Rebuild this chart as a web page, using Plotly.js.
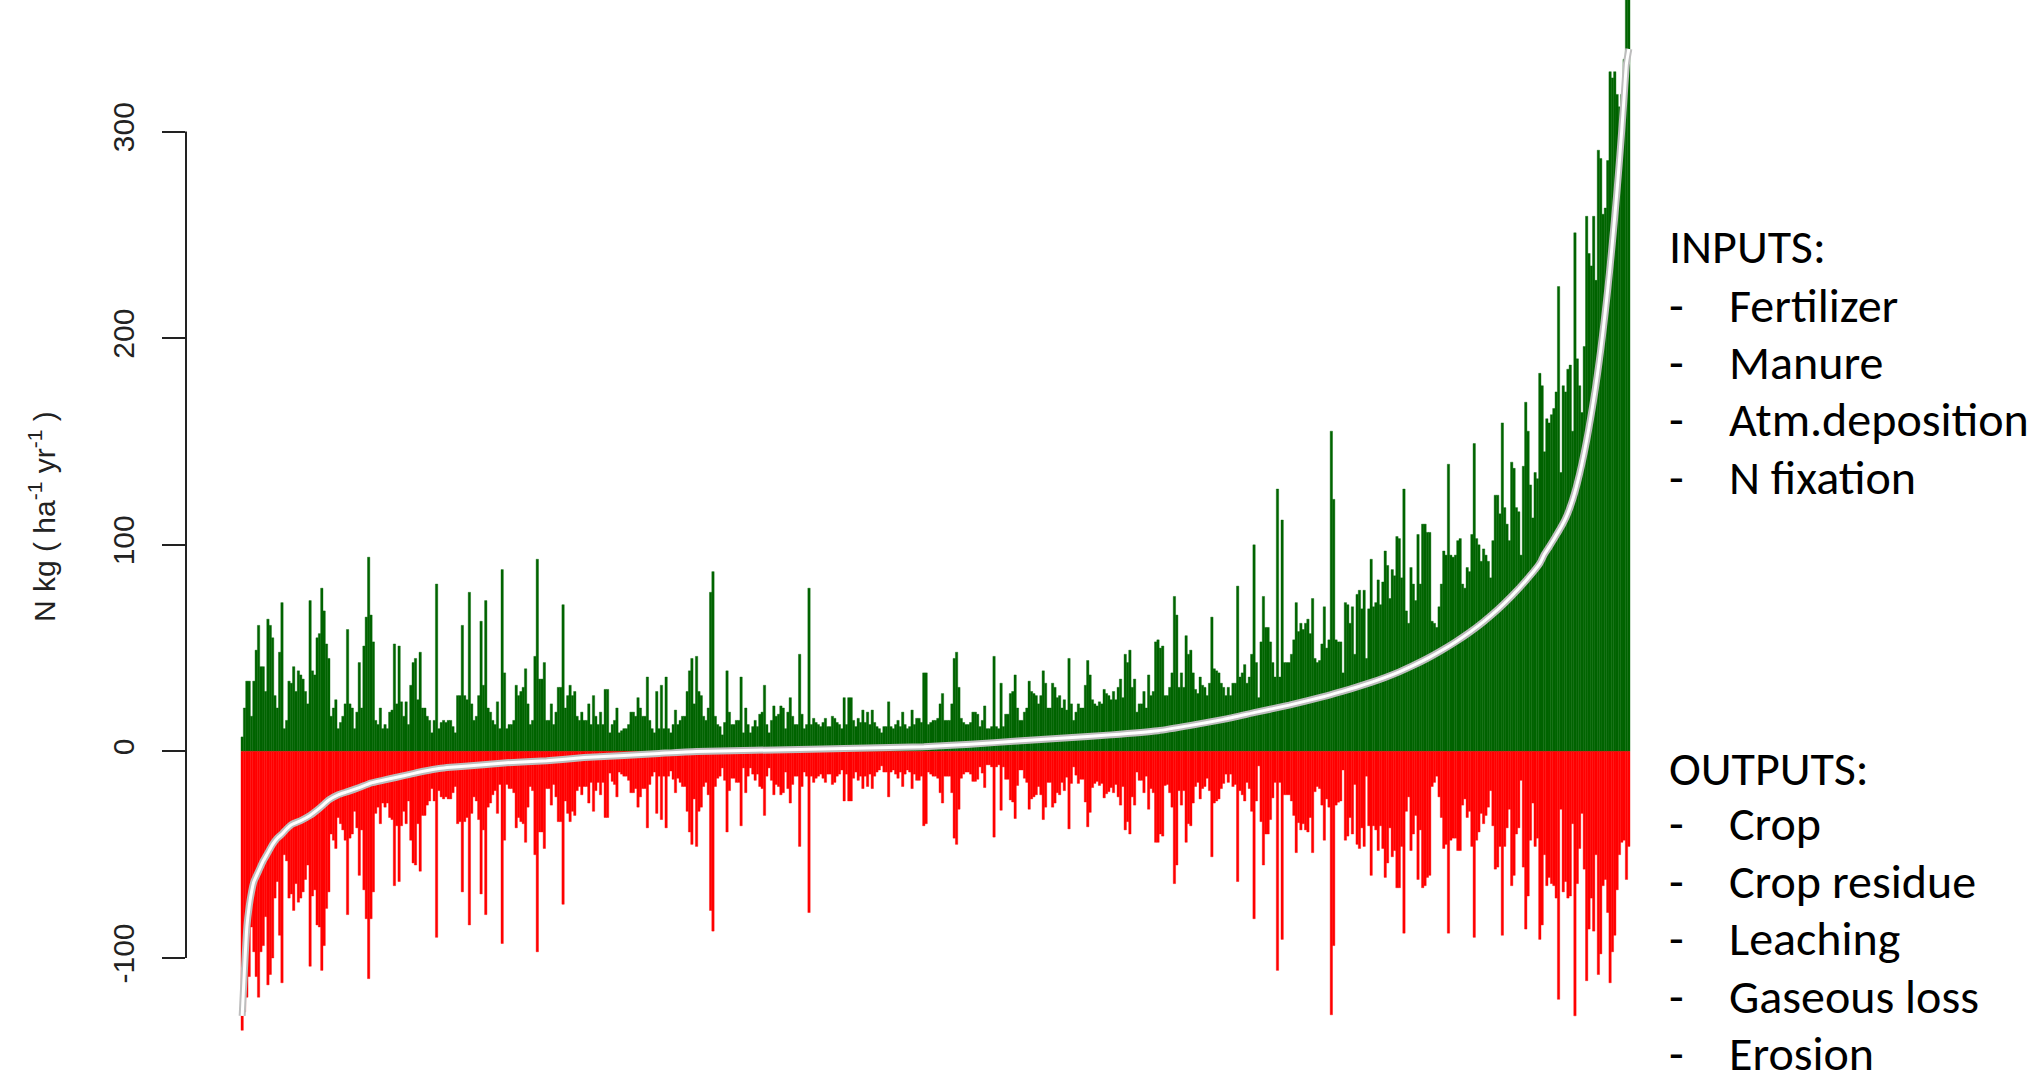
<!DOCTYPE html>
<html>
<head>
<meta charset="utf-8">
<script src="https://cdn.plot.ly/plotly-3.0.1.min.js"></script>
<style>
html, body { margin: 0; padding: 0; background: #ffffff; }
#chart { width: 2041px; height: 1071px; }
</style>
</head>
<body>
<div id="chart"></div>
<script>
// N inputs per cell (kg N ha-1 yr-1), cells sorted by N balance
const inputs = [
7,21,34,34,17,34,49,61,41,41, 29,64,61,55,27,21,48,72,11,15, 34,33,41,29,39,37,35,29,23,73, 39,37,55,57,79,68,52,45,17,21, 25,11,14,17,23,59,23,21,11,19, 43,21,51,65,94,66,53,15,13,21, 11,13,11,19,20,52,23,51,24,17, 24,13,32,43,45,25,48,21,21,17, 15,9,15,81,11,14,15,14,15,15, 12,9,27,27,61,27,
25,77,23,15,17,27,63,32,73,21, 19,15,13,24,11,88,38,11,13,13, 15,32,27,29,31,40,23,13,15,46, 93,35,35,43,15,15,23,13,19,31, 31,71,21,27,32,27,29,17,15,19, 15,15,23,13,27,17,13,19,13,30, 30,9,13,15,21,9,10,11,11,13, 19,19,17,26,21,17,17,36,15,11, 9,29,11,32,11,36,11,9,13,20, 13,15,17,17,29,39,45,23,
46,29,27,17,15,21,77,87,17,13, 12,8,14,39,19,13,13,15,15,36, 9,21,13,9,12,15,12,18,19,32, 13,9,15,22,17,18,22,21,11,19, 26,17,13,13,47,18,11,13,79,13, 16,14,13,12,14,16,12,12,17,16, 14,13,11,26,13,26,26,15,12,16, 14,20,14,19,13,20,14,12,11,9, 12,12,24,12,11,13,15,12,19,13, 11,12,20,13,16,16,14,38,
38,13,14,15,15,16,23,28,15,15, 15,23,45,48,31,16,14,13,13,14, 19,19,18,12,15,22,11,11,12,46, 12,11,33,12,18,18,28,29,37,21, 15,15,19,21,34,29,28,27,23,27, 39,33,21,21,33,31,26,27,21,25, 20,45,23,15,19,23,21,21,32,44, 37,25,23,22,24,23,30,28,27,25, 29,25,31,35,26,47,43,49,31,35, 19,23,23,29,21,37,27,29,53,
54,50,51,27,27,31,38,75,66,31, 38,31,56,47,49,38,30,28,36,32, 31,27,33,65,40,39,38,33,31,27, 31,27,33,33,80,36,38,42,33,36, 47,100,43,26,53,75,60,60,53,43, 36,127,36,112,43,43,43,47,54,72, 58,62,59,62,64,57,74,45,43,44, 52,70,50,54,155,122,54,53,53,38, 72,71,62,70,47,76,78,69,78,45, 69,93,70,72,83,71,82,97,90,74, 88,85,104,
103,84,127,68,62,89,81,73,105,81, 110,110,106,106,63,62,60,70,81,97, 95,139,95,94,95,102,103,81,79,89, 87,105,149,103,100,92,98,95,92,84, 102,124,124,115,159,118,110,102,140,137, 118,116,95,138,169,155,129,113,135,132, 183,177,145,161,159,163,166,174,225,135, 177,174,185,187,155,251,190,177,164,196, 259,241,235,259,228,291,287,260,263,286, 329,326,329,318,312,318,335,372,380
];

// N outputs per cell (kg N ha-1 yr-1), same order
const outputs = [
135,126,119,109,85,97,109,119,97,94, 80,113,108,100,71,63,89,112,50,53, 71,69,77,64,73,71,68,62,55,104, 70,67,84,85,106,94,76,68,40,43, 47,32,35,38,43,79,42,40,29,37, 60,38,67,81,110,81,68,30,27,35, 25,27,25,32,33,65,36,63,36,29, 35,24,43,54,55,35,58,31,31,26, 24,18,24,90,19,22,23,22,23,23, 20,17,35,34,68,34,
32,84,30,22,24,33,69,38,79,27, 25,21,19,30,16,93,43,16,18,18, 20,37,32,34,35,44,27,17,19,50, 97,39,39,47,18,18,26,16,22,34, 34,74,24,30,34,29,31,19,17,21, 17,17,25,15,29,19,15,21,15,32, 32,10.5,14.5,16,22,10,11,12,12,14, 20,20,18,27,22,18,18,37,16,12, 10,30,12,33,12,37,12,9.5,13.5,20, 13,15,17,17,29,39,45,23,
46,29,27,17,15,21,77,87,17,13, 12,8,14,39,19,13,13,15,15,36, 8,20,12,8,11,14,11,17,18,31, 12,8,14,21,16,17,21,20,10,18, 25,16,12,12,46,17,10,12,78,12, 15,13,12,11,13,15,11,11,16,15, 12,11,9,24,11,24,24,13,10,14, 12,18,12,17,11,18,12,10,9,7, 10,10,22,10,9,11,13,10,17,11, 9,10,18,11,14,14,12,36,
35,10,11,12,12,13,20,25,12,12, 12,20,42,45,28,13,11,10,10,11, 14.5,14.5,13.5,7.5,10.5,17.5,6.5,6.5,7.5,41.5, 7.5,6.5,28.5,7.5,13.5,13.5,23.5,24.5,32.5,16.5, 9,9,13,15,28,23,22,21,17,21, 33,27,15,15,27,25,20,21,15,19, 12.5,37.5,15.5,7.5,11.5,15.5,13.5,13.5,24.5,36.5, 29.5,17.5,15.5,14.5,16.5,15.5,22.5,20.5,19.5,17.5, 20,16,22,26,17,38,34,40,22,26, 10,14,14,20,12,28,18,20,44,
44,40,41,16.5,16,20,27,64,55,19, 26,19,44,35,36,25,17,15,23,18, 17,13,19,51,25,24,23,18,15.5,11, 15,11,17,16,63,19,21,24,15,18, 29,81,24,7,34,55,40,40,33,22.5, 15,106,15,91,21,21,21,24,31,49, 34.5,38,35,38,39,32,49,19.5,17,18, 26,43,23,27,127.5,94,26,24.6,24,9, 43,41,32,40,16,45,47,37,46,12, 36,60,36,38,48,36,47,61,54,37, 51,48,66,
66,46,88,29,22,48,40,31,62,38, 66,65,61,60,17,15,12,22,32,47, 45,88,43,42,42,48,48,26,23,32, 29,46,90,43,39,30,35,31,27,19, 36,57,56,46,89,46,37,28,65,60, 40,37,14,56,86,70,43,25,46,42, 91,84,50,65,61,64,65,71,120,28, 68,63,71,70,35,128,64,47,30,57, 111,86,71,87,50,108,98,65,62,78, 112,97,89,67,50,44,43,62,46
];

// Sorted N balance (inputs - outputs), read at these cell positions
const balanceAt = [0,1,2,3,4,5,7,9,11,13, 15,17,19,21,25,29,33,35,37,41, 45,50,55,60,66,72,78,84,89,95, 113,130,146,163,178,194,243,291,311,331, 351,371,391,405,419,433,447,462,470,476, 482,488,494,500,506,512,518,524,530,536, 542,548,554,556,558,560,562,564,565,566, 567,568,569,570,571,572,573,574,575,576, 577,578,579,580,581,582,583,584,585,586, 587,588,589,590,591,592];
const balance = [-128,-105,-85,-75,-68,-63,-58,-53,-49,-45, -42,-40,-37.5,-35.5,-33.5,-31,-27.5,-25.5,-23.5,-21, -19.5,-17.5,-15.3,-14,-12.5,-11,-9.5,-8.3,-7.7,-7.2, -5.5,-4.5,-3,-2,-1,0,1,2.3,3.5,5, 6.5,8,10,12.6,15.5,19,22.4,26.6,29.2,31.2, 33.4,35.8,38.5,41.6,45,48.8,53,57.6,62.8,68.6, 75.2,82.6,91,95.5,99,102.7,106.5,110.5,112.8,115.4, 118.4,121.8,125.6,129.8,134.4,139.4,144.8,150.6,156.8,163.4, 170.4,177.8,185.8,194.4,203.6,213.4,223.8,234.8,246.6,259, 272,286,301,317,333,340];

const yTicks = [-100, 0, 100, 200, 300];
const yTickText = ['-100', '0', '100', '200', '300'];
const yTitle = 'N kg ( ha<sup>-1</sup> yr<sup>-1</sup> )';
const inputsHeading = 'INPUTS:';
const inputItems = ['Fertilizer', 'Manure', 'Atm.deposition', 'N fixation'];
const outputsHeading = 'OUTPUTS:';
const outputItems = ['Crop', 'Crop residue', 'Leaching', 'Gaseous loss', 'Erosion'];

const W = 2041, H = 1071;
const plotL = 186, plotR = 1650;
const cells = inputs.map((_, i) => i);

const traces = [
  {
    type: 'bar', x: cells, y: inputs, width: 1,
    marker: { color: '#006400', line: { width: 0.4, color: '#006400' } },
    hoverinfo: 'skip', showlegend: false
  },
  {
    type: 'bar', x: cells, y: outputs.map(v => -v), width: 1,
    marker: { color: '#ff0000', line: { width: 0.4, color: '#ff0000' } },
    hoverinfo: 'skip', showlegend: false
  },
  {
    type: 'scatter', mode: 'lines', x: balanceAt, y: balance,
    line: { color: '#bdbdbd', width: 7, shape: 'spline', smoothing: 0.5 },
    hoverinfo: 'skip', showlegend: false
  },
  {
    type: 'scatter', mode: 'lines', x: balanceAt, y: balance,
    line: { color: '#ffffff', width: 3, shape: 'spline', smoothing: 0.5 },
    hoverinfo: 'skip', showlegend: false
  }
];

const px = v => (v - plotL) / (plotR - plotL);
const py = v => (H - v) / H;

const textFont = { family: 'Carlito, Lato, sans-serif', size: 48, color: '#000000' };
const annotations = [
  {
    text: yTitle, xref: 'paper', yref: 'paper', x: px(42), y: py(517),
    textangle: -90, showarrow: false, xanchor: 'center', yanchor: 'middle',
    font: { family: 'Liberation Sans, Arial, sans-serif', size: 30, color: '#222222' }
  }
];
const rowY = [247, 305, 362, 419, 478];
const rowY2 = [768, 824, 881, 938, 996, 1053];
annotations.push({ text: inputsHeading, xref: 'paper', yref: 'paper', x: px(1667), y: py(rowY[0]),
  xanchor: 'left', yanchor: 'middle', showarrow: false, font: textFont });
inputItems.forEach((t, k) => {
  annotations.push({ text: '-', xref: 'paper', yref: 'paper', x: px(1667), y: py(rowY[k + 1]),
    xanchor: 'left', yanchor: 'middle', showarrow: false, font: textFont });
  annotations.push({ text: t, xref: 'paper', yref: 'paper', x: px(1727), y: py(rowY[k + 1]),
    xanchor: 'left', yanchor: 'middle', showarrow: false, font: textFont });
});
annotations.push({ text: outputsHeading, xref: 'paper', yref: 'paper', x: px(1667), y: py(rowY2[0]),
  xanchor: 'left', yanchor: 'middle', showarrow: false, font: textFont });
outputItems.forEach((t, k) => {
  annotations.push({ text: '-', xref: 'paper', yref: 'paper', x: px(1667), y: py(rowY2[k + 1]),
    xanchor: 'left', yanchor: 'middle', showarrow: false, font: textFont });
  annotations.push({ text: t, xref: 'paper', yref: 'paper', x: px(1727), y: py(rowY2[k + 1]),
    xanchor: 'left', yanchor: 'middle', showarrow: false, font: textFont });
});

const unitPerPx = 1 / ((1630 - 241) / inputs.length);
const xLeft = -0.5 - (241 - plotL) * unitPerPx;
const xRight = xLeft + (plotR - plotL) * unitPerPx;

const layout = {
  width: W, height: H,
  margin: { l: plotL, r: W - plotR, t: 0, b: 0, pad: 0 },
  paper_bgcolor: '#ffffff', plot_bgcolor: '#ffffff',
  barmode: 'relative', bargap: 0,
  showlegend: false,
  xaxis: { range: [xLeft, xRight], visible: false, fixedrange: true },
  yaxis: {
    range: [-154.7, 363.7], tickmode: 'array', tickvals: yTicks, ticktext: yTickText,
    ticks: 'outside', ticklen: 23, tickwidth: 2, tickcolor: '#222222',
    tickangle: -90, ticklabelstandoff: 16,
    tickfont: { family: 'Liberation Sans, Arial, sans-serif', size: 30, color: '#222222' },
    showgrid: false, zeroline: false, showline: false, fixedrange: true
  },
  shapes: [
    { type: 'line', xref: 'paper', yref: 'y', x0: 0, x1: 0, y0: -100, y1: 300,
      line: { color: '#222222', width: 2 } }
  ],
  annotations: annotations
};

Plotly.newPlot('chart', traces, layout, { staticPlot: true, displayModeBar: false });
</script>
</body>
</html>
